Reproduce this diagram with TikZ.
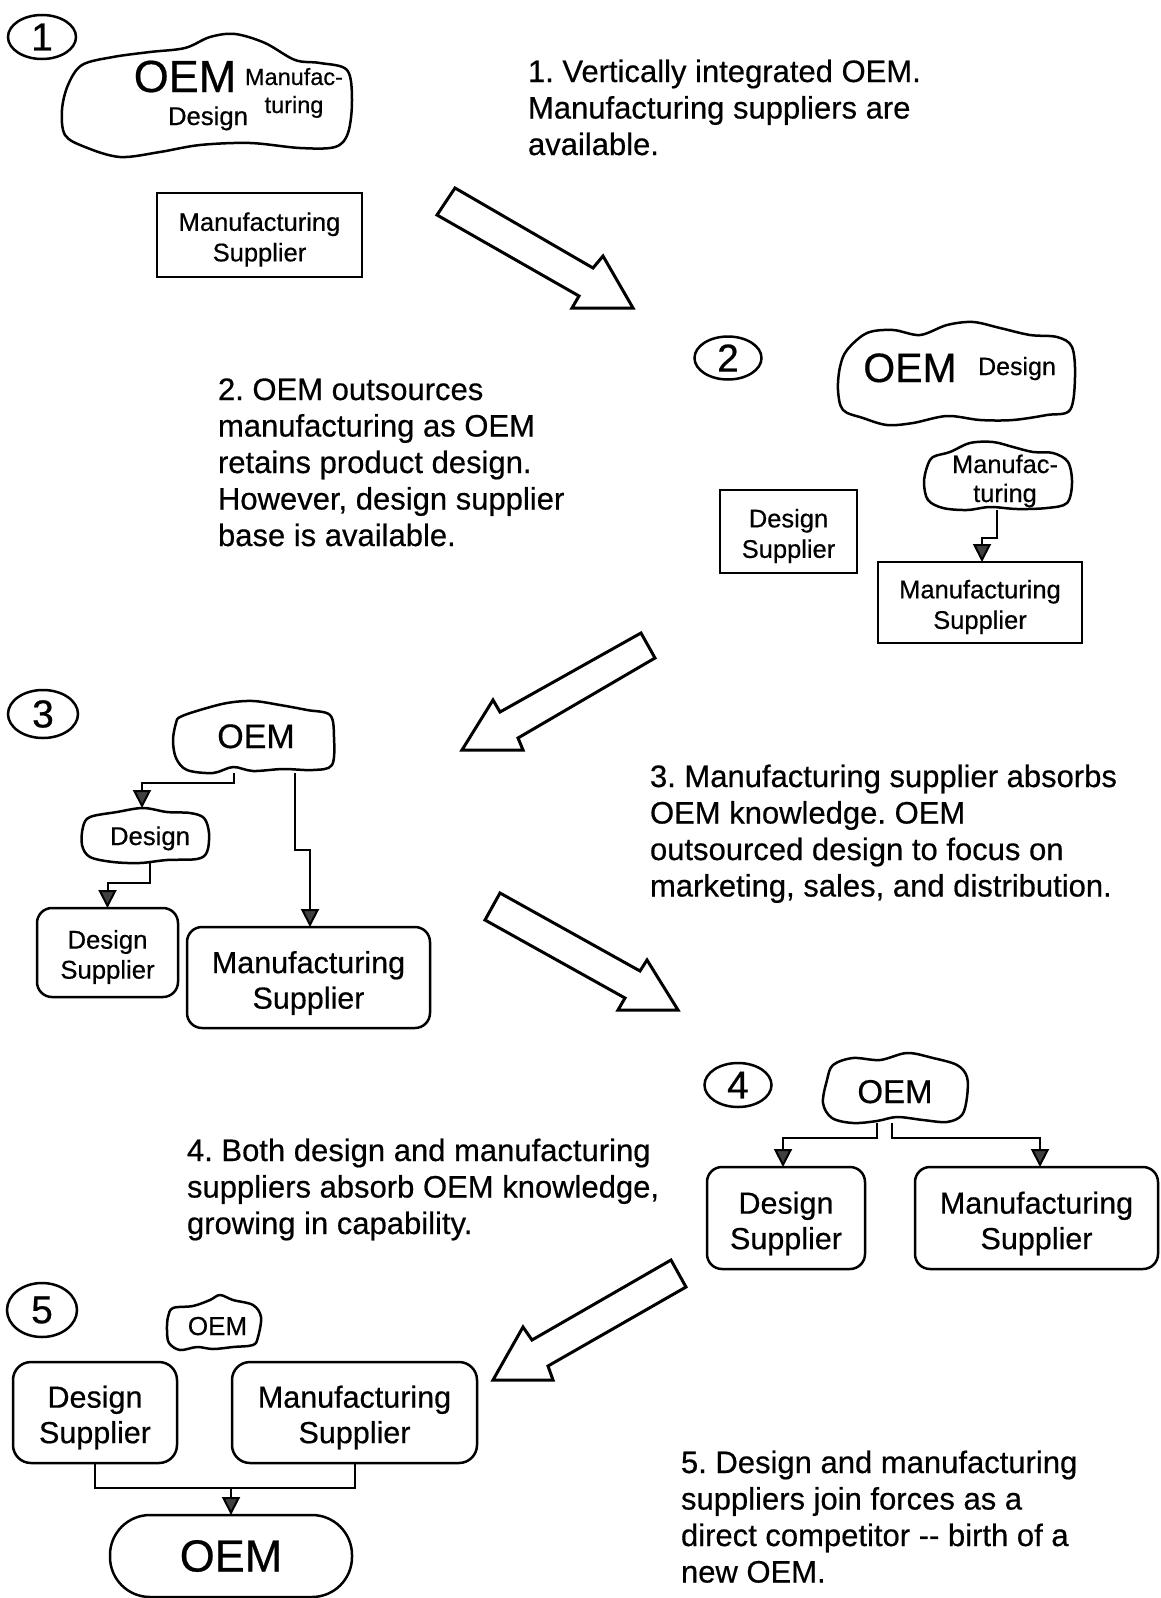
\documentclass[tikz,border=0pt]{standalone}
\usepackage{fontspec}
\setmainfont{Liberation Sans}[FakeBold=0.5]
\usetikzlibrary{shapes.geometric,arrows.meta}
\newcommand\fsz[2]{\fontsize{#1}{#2}\selectfont}
\frenchspacing
\begin{document}
\begin{tikzpicture}[x=1pt,y=-1pt,
  every node/.style={inner sep=0pt,outer sep=0pt},
  numcirc/.style={draw,ellipse,line width=2.5pt,font=\fsz{39}{40}},
  cloudline/.style={line width=2.5pt,line join=round},
  sqbox/.style={draw,rectangle,line width=2.3pt},
  rbox/.style={draw,rounded corners=15pt,line width=2.5pt},
  smalltext/.style={align=center,font=\fsz{25.5}{30.5}},
  bigtext/.style={align=center,font=\fsz{30.5}{35.5}},
  conn/.style={line width=2pt,-{Triangle[width=18pt,length=18pt,fill=black!75]}},
  joinline/.style={line width=2pt},
  blockarrow/.style={line width=3pt,line join=miter,fill=white},
  bodytext/.style={anchor=base west,font=\fsz{31}{36.5}},
  cloudtext/.style={anchor=base}]
\useasboundingbox (0,0) rectangle (1160,1598);
\fill[white] (0,0) rectangle (1160,1598);

% ---------- Stage 1 ----------
\node[numcirc,minimum width=68pt,minimum height=44pt] (n1) at (42,37) {1};
\draw[cloudline] plot[smooth cycle,tension=0.55] coordinates {(82,65) (113,57) (150,52) (185,48) (210,37) (235,34) (265,43) (295,60) (320,63) (347,70) (352,100) (348,133) (335,147) (300,148) (250,143) (200,145) (160,152) (120,157) (85,147) (65,135) (62,110) (68,85)};
\node[minimum width=290pt,minimum height=124pt] (c1) at (207,95) {};
\node[cloudtext,font=\fsz{45}{50}] (c1oem) at (185,92) {OEM};
\node[cloudtext,font=\fsz{23.5}{28}] (c1man) at (294,85) {\parbox[t]{120pt}{\centering Manufac-\\turing}};
\node[cloudtext,font=\fsz{25.7}{30}] (c1des) at (208,125) {Design};
\node[sqbox,minimum width=205pt,minimum height=84pt] (ms1) at (259.5,235) {};
\node[smalltext] (ms1t) at ([yshift=-4.5pt]ms1.center) {Manufacturing\\Supplier};
\node[bodytext] (t1) at (528,82) {\parbox[t]{620pt}{1. Vertically integrated OEM.\\Manufacturing suppliers are\\available.}};

% arrow 1 -> 2
\draw[blockarrow] (455,188) -- (593,268) -- (603,256) -- (633,308) -- (572,308) -- (579,296) -- (437,215) -- cycle;

% ---------- Stage 2 ----------
\node[numcirc,minimum width=67pt,minimum height=43pt] (n2) at (728,358) {2};
\draw[cloudline] plot[smooth cycle,tension=0.55] coordinates {(847,350) (867,333) (893,330) (920,335) (947,325) (973,322) (1000,328) (1030,335) (1057,337) (1072,347) (1075,377) (1070,410) (1047,415) (1013,420) (980,420) (947,416) (913,423) (887,425) (863,418) (843,410) (838,390) (840,367)};
\node[minimum width=237pt,minimum height=103pt] (c2) at (956.5,373.5) {};
\node[cloudtext,font=\fsz{41}{46}] (c2oem) at (910,382) {OEM};
\node[cloudtext,font=\fsz{25}{30}] (c2des) at (1017,375) {Design};
\draw[cloudline] plot[smooth cycle,tension=0.55] coordinates {(933,457) (950,452) (970,443) (993,442) (1013,447) (1033,452) (1053,453) (1068,462) (1072,483) (1067,503) (1047,508) (1017,509) (990,507) (967,510) (943,508) (928,500) (924,483) (927,467)};
\node[minimum width=151pt,minimum height=68pt] (m2) at (999.5,476) {};
\node[cloudtext,font=\fsz{25.4}{29}] (m2txt) at (1005,473) {\parbox[t]{140pt}{\centering Manufac-\\turing}};
\node[sqbox,minimum width=137pt,minimum height=83pt] (ds2) at (788.5,531.5) {};
\node[smalltext] (ds2t) at ([yshift=-4.5pt]ds2.center) {Design\\Supplier};
\node[sqbox,minimum width=204pt,minimum height=81pt] (ms2) at (980,602.5) {};
\node[smalltext] (ms2t) at ([yshift=-4.5pt]ms2.center) {Manufacturing\\Supplier};
\draw[conn] ([xshift=-2.5pt]m2.south) -- ++(0,28) -| ([xshift=2pt]ms2.north);
\node[bodytext] (t2) at (218,400) {\parbox[t]{420pt}{2. OEM outsources\\manufacturing as OEM\\retains product design.\\However, design supplier\\base is available.}};

% arrow 2 -> 3
\draw[blockarrow] (641,633) -- (655,658) -- (518,738) -- (523,750) -- (462,750) -- (493,700) -- (500,712) -- cycle;

% ---------- Stage 3 ----------
\node[numcirc,minimum width=70pt,minimum height=48pt] (n3) at (43,714) {3};
\draw[cloudline] plot[smooth cycle,tension=0.55] coordinates {(180,717) (200,710) (227,703) (253,701) (280,705) (307,710) (330,715) (334,737) (332,765) (313,770) (283,769) (253,771) (233,767) (213,773) (187,770) (176,758) (173,740) (176,723)};
\node[minimum width=161pt,minimum height=72pt] (c3) at (253.5,737) {};
\node[cloudtext,font=\fsz{34}{38}] (c3oem) at (256,748) {OEM};
\draw[cloudline] plot[smooth cycle,tension=0.55] coordinates {(90,817) (117,812) (143,808) (167,812) (190,813) (204,818) (209,833) (207,852) (197,859) (167,860) (140,863) (113,862) (90,857) (82,845) (83,827)};
\node[minimum width=127pt,minimum height=55pt] (d3) at (145.5,835.5) {};
\node[cloudtext,font=\fsz{25.7}{30}] (d3txt) at (150,845) {Design};
\node[rbox,minimum width=141pt,minimum height=89pt] (ds3) at (107.5,952.5) {};
\node[smalltext,font=\fsz{25.7}{30}] (ds3t) at ([yshift=-4.5pt]ds3.center) {Design\\Supplier};
\node[rbox,minimum width=243pt,minimum height=101pt] (ms3) at (308.5,977.5) {};
\node[bigtext] (ms3t) at ([yshift=-5.5pt]ms3.center) {Manufacturing\\Supplier};
\draw[conn] ([xshift=-20pt]c3.south) -- ++(0,10) -| ([xshift=-3.5pt]d3.north);
\draw[conn] ([xshift=4.5pt]d3.south) -- ++(0,20) -| (ds3.north);
\draw[conn] ([xshift=41.5pt]c3.south) -- ++(0,77) -| ([xshift=1.5pt]ms3.north);
\node[bodytext] (t3) at (650,787) {\parbox[t]{500pt}{3. Manufacturing supplier absorbs\\OEM knowledge. OEM\\outsourced design to focus on\\marketing, sales, and distribution.}};

% arrow 3 -> 4
\draw[blockarrow] (500,893) -- (640,971) -- (647,960) -- (678,1010) -- (618,1010) -- (625,998) -- (485,920) -- cycle;

% ---------- Stage 4 ----------
\node[numcirc,minimum width=67pt,minimum height=44pt] (n4) at (738,1085) {4};
\draw[cloudline] plot[smooth cycle,tension=0.55] coordinates {(833,1065) (853,1058) (880,1060) (907,1053) (933,1058) (957,1065) (967,1077) (967,1097) (962,1115) (947,1122) (923,1120) (897,1117) (877,1121) (853,1123) (832,1118) (823,1103) (827,1080)};
\node[minimum width=144pt,minimum height=70pt] (c4) at (895,1088) {};
\node[cloudtext,font=\fsz{33}{37}] (c4oem) at (895,1103) {OEM};
\node[rbox,minimum width=158pt,minimum height=102pt] (ds4) at (786,1218) {};
\node[bigtext] (ds4t) at ([yshift=-5.5pt]ds4.center) {Design\\Supplier};
\node[rbox,minimum width=243pt,minimum height=102pt] (ms4) at (1036.5,1218) {};
\node[bigtext] (ms4t) at ([yshift=-5.5pt]ms4.center) {Manufacturing\\Supplier};
\draw[conn] ([xshift=-18pt]c4.south) -- ++(0,15) -| ([xshift=-3pt]ds4.north);
\draw[conn] ([xshift=-3pt]c4.south) -- ++(0,15) -| ([xshift=3.5pt]ms4.north);
\node[bodytext] (t4) at (187,1161) {\parbox[t]{480pt}{4. Both design and manufacturing\\suppliers absorb OEM knowledge,\\growing in capability.}};

% arrow 4 -> 5
\draw[blockarrow] (671,1260) -- (686,1287) -- (548,1366) -- (553,1380) -- (493,1380) -- (523,1327) -- (532,1340) -- cycle;

% ---------- Stage 5 ----------
\node[numcirc,minimum width=70pt,minimum height=54pt] (n5) at (42,1310) {5};
\draw[cloudline] plot[smooth cycle,tension=0.55] coordinates {(173,1308) (193,1306) (210,1300) (220,1295) (233,1300) (253,1305) (261,1317) (258,1337) (253,1345) (233,1347) (213,1349) (197,1347) (180,1350) (169,1343) (167,1330) (168,1317)};
\node[minimum width=94pt,minimum height=55pt] (c5) at (214,1322) {};
\node[cloudtext,font=\fsz{26}{30}] (c5oem) at (217.5,1335) {OEM};
\node[rbox,rounded corners=18pt,minimum width=164pt,minimum height=101pt] (ds5) at (95,1412.5) {};
\node[bigtext] (ds5t) at ([yshift=-5pt]ds5.center) {Design\\Supplier};
\node[rbox,rounded corners=18pt,minimum width=245pt,minimum height=101pt] (ms5) at (354.5,1412.5) {};
\node[bigtext] (ms5t) at ([yshift=-5pt]ms5.center) {Manufacturing\\Supplier};
\node[draw,rounded corners=40pt,line width=2.5pt,minimum width=242pt,minimum height=82pt,font=\fsz{45}{50}] (oem5) at (231,1556) {OEM};
\draw[joinline] (ds5.south) -- ++(0,25) -| (ms5.south);
\coordinate (j5) at (231,1488);
\draw[conn] (j5) -- (oem5.north);
\node[bodytext] (t5) at (681,1473) {\parbox[t]{460pt}{5. Design and manufacturing\\suppliers join forces as a\\direct competitor -{}- birth of a\\new OEM.}};
\end{tikzpicture}
\end{document}
